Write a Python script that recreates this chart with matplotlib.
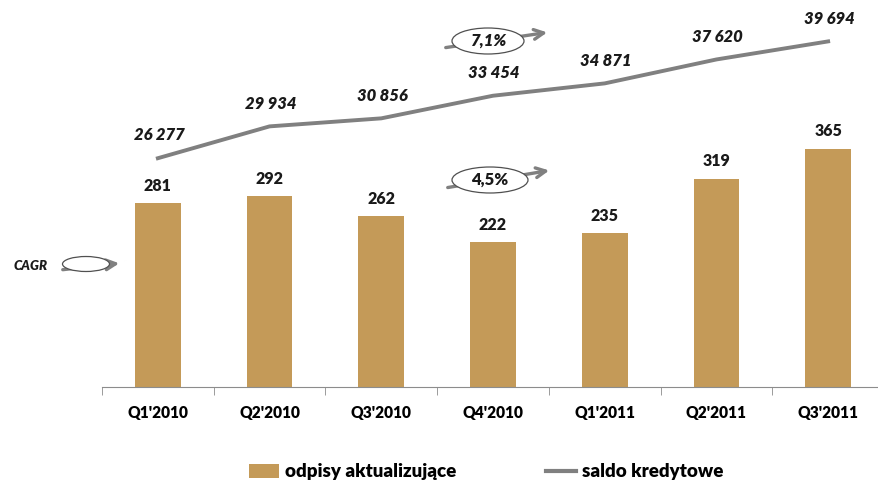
import matplotlib.pyplot as plt
from matplotlib.patches import Ellipse
from matplotlib.lines import Line2D
from matplotlib.patches import Patch

plt.rcParams['font.family'] = ['Lato', 'DejaVu Sans']
BOLD = 'heavy'

quarters = ["Q1'2010", "Q2'2010", "Q3'2010", "Q4'2010", "Q1'2011", "Q2'2011", "Q3'2011"]
odpisy = [281, 292, 262, 222, 235, 319, 365]
saldo = [26277, 29934, 30856, 33454, 34871, 37620, 39694]

BAR_COLOR = '#C49A58'
LINE_COLOR = '#808080'

W, H = 879, 480
fig = plt.figure(figsize=(W / 100, H / 100), dpi=100)
ax = fig.add_axes([102 / W, 93 / H, 782 / W, 377 / H])
ax2 = ax.twinx()

x = list(range(len(quarters)))
ax.bar(x, odpisy, width=0.41, color=BAR_COLOR, zorder=2)
ax.set_xlim(-0.5, len(quarters) - 0.5)
ax.set_ylim(0, 577)
for xi, v in zip(x, odpisy):
    ax.text(xi, v + 14, str(v), ha='center', va='bottom', fontsize=11.5,
            fontweight=BOLD, color='#1a1a1a')

ax2.plot(x, saldo, color=LINE_COLOR, lw=2.8, zorder=3)
ax2.set_ylim(0, 43300)
for xi, v in zip(x, saldo):
    lbl = f"{v:,}".replace(",", " ")
    ax2.text(xi + 0.01, v + 1700, lbl, ha='center', va='bottom', fontsize=12,
             fontweight=BOLD, fontstyle='italic', color='#1a1a1a')

for a in (ax, ax2):
    for s in ('left', 'right', 'top'):
        a.spines[s].set_visible(False)
    a.tick_params(axis='y', left=False, right=False, labelleft=False, labelright=False)
ax2.spines['bottom'].set_visible(False)
ax.spines['bottom'].set_color('#8c8c8c')

ax.set_xticks(x)
ax.set_xticklabels(quarters, fontsize=11.2, fontweight=BOLD)
ax.tick_params(axis='x', which='major', length=0, pad=13)
ax.set_xticks([i - 0.5 for i in range(len(quarters) + 1)], minor=True)
ax.tick_params(axis='x', which='minor', length=6, color='#8c8c8c')


def px(xp, yp):
    return xp / W, 1 - yp / H


def cagr(cx, cy, w, h, x0, y0, x1, y1, txt=None, italic=False):
    ax.annotate('', xy=px(x1, y1), xytext=px(x0, y0), xycoords='figure fraction',
                textcoords='figure fraction',
                arrowprops=dict(arrowstyle='->,head_length=0.7,head_width=0.35',
                                color=LINE_COLOR, lw=2.4), zorder=4,
                annotation_clip=False)
    e = Ellipse(px(cx, cy), w / W, h / H, transform=fig.transFigure,
                facecolor='white', edgecolor='#505050', lw=0.9, zorder=5)
    fig.add_artist(e)
    if txt:
        fig.text(*px(cx, cy), txt, ha='center', va='center', fontsize=12,
                 fontweight=BOLD, fontstyle='italic' if italic else 'normal',
                 color='#1a1a1a', zorder=6)


cagr(488, 41, 72, 26, 443, 48, 550, 32, '7,1%', italic=True)
cagr(490, 180, 76, 26, 445, 188, 552, 170, '4,5%')
cagr(86, 264, 47, 15, 60, 270, 122, 263)
fig.text(*px(31, 266), 'CAGR', ha='center', va='center', fontsize=9.5,
         fontweight=BOLD, fontstyle='italic', color='#1a1a1a')

handles = [Patch(facecolor=BAR_COLOR, edgecolor='none'),
           Line2D([0], [0], color=LINE_COLOR, lw=3)]
fig.legend(handles, ['odpisy aktualizujące', 'saldo kredytowe'],
           loc='center', bbox_to_anchor=px(486, 472), ncol=2, frameon=False,
           prop={'weight': BOLD, 'size': 13.5}, columnspacing=4.8,
           handlelength=1.6, handleheight=0.75, handletextpad=0.3)

fig.savefig('out.png', dpi=100)
